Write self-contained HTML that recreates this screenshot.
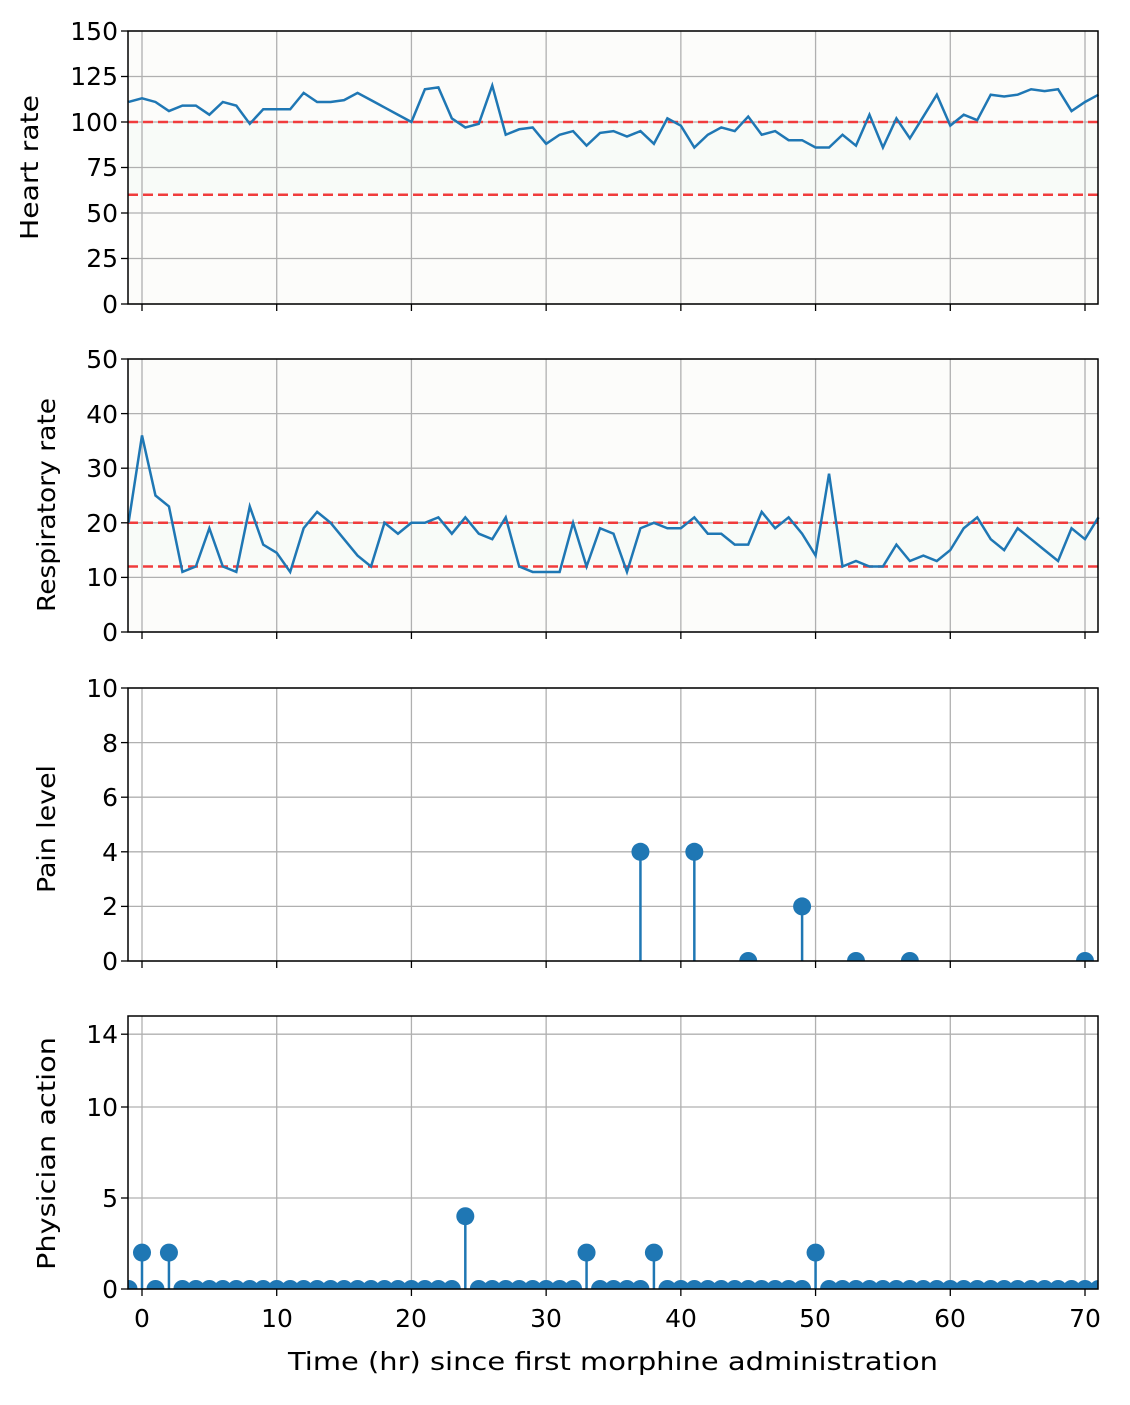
<!DOCTYPE html>
<html><head><meta charset="utf-8"><style>
body{margin:0;background:#fff}
svg text{font-family:"DejaVu Sans","Liberation Sans",sans-serif;font-size:25px;fill:#000}
</style></head><body>
<svg id="s" width="1130" height="1400" xmlns="http://www.w3.org/2000/svg">
<defs>
<clipPath id="c2"><rect x="128" y="680" width="970" height="281"/></clipPath>
<clipPath id="c3"><rect x="128" y="1010" width="970" height="279"/></clipPath>
</defs>
<g id="g"></g>
<g text-anchor="end">
<text x="118" y="40">150</text><text x="118" y="85">125</text><text x="118" y="131">100</text><text x="118" y="176">75</text><text x="118" y="222">50</text><text x="118" y="267">25</text><text x="118" y="313">0</text>
<text x="118" y="368">50</text><text x="118" y="423">40</text><text x="118" y="477">30</text><text x="118" y="532">20</text><text x="118" y="586">10</text><text x="118" y="641">0</text>
<text x="118" y="697">10</text><text x="118" y="752">8</text><text x="118" y="806">6</text><text x="118" y="861">4</text><text x="118" y="915">2</text><text x="118" y="970">0</text>
<text x="118" y="1043">14</text><text x="118" y="1116">10</text><text x="118" y="1207">5</text><text x="118" y="1298">0</text>
</g>
<g text-anchor="middle">
<text x="142" y="1327">0</text><text x="277" y="1327">10</text><text x="411" y="1327">20</text><text x="546" y="1327">30</text><text x="681" y="1327">40</text><text x="815" y="1327">50</text><text x="950" y="1327">60</text><text x="1085" y="1327">70</text>
</g>
<text x="288" y="1370" font-size="28" textLength="650" lengthAdjust="spacingAndGlyphs">Time (hr) since first morphine administration</text>
<text transform="translate(38,240) rotate(-90)" font-size="28" textLength="145" lengthAdjust="spacingAndGlyphs">Heart rate</text>
<text transform="translate(55,612) rotate(-90)" font-size="28" textLength="214" lengthAdjust="spacingAndGlyphs">Respiratory rate</text>
<text transform="translate(55,893) rotate(-90)" font-size="28" textLength="128" lengthAdjust="spacingAndGlyphs">Pain level</text>
<text transform="translate(55,1270) rotate(-90)" font-size="28" textLength="233" lengthAdjust="spacingAndGlyphs">Physician action</text>
</svg>
<script>
const g=document.getElementById('g');const NS='http://www.w3.org/2000/svg';
function el(t,a,par){const e=document.createElementNS(NS,t);for(const k in a)e.setAttribute(k,a[k]);(par||g).appendChild(e);return e;}
const L=128,R=1098;const X=v=>142+(v)*943/70;
const P=[{t:31,b:304,max:150,ticks:[0,25,50,75,100,125,150]},{t:359,b:632,max:50,ticks:[0,10,20,30,40,50]},{t:688,b:961,max:10,ticks:[0,2,4,6,8,10]},{t:1016,b:1289,max:15,ticks:[0,5,10,14]}];
const Y=(p,v)=>p.b-v*(p.b-p.t)/p.max;
P.forEach((p,i)=>{
 if(i<2){el('rect',{x:L,y:p.t,width:R-L,height:p.b-p.t,fill:'#fcfcfa'});
  const lo=i==0?60:12,hi=i==0?100:20;el('rect',{x:L,y:Y(p,hi),width:R-L,height:Y(p,lo)-Y(p,hi),fill:'#f8fbf8'});}
 for(let x=0;x<=70;x+=10)el('line',{x1:X(x),x2:X(x),y1:p.t,y2:p.b,stroke:'#b0b0b0','stroke-width':1.3});
 p.ticks.forEach(v=>{el('line',{x1:L,x2:R,y1:Y(p,v),y2:Y(p,v),stroke:'#b0b0b0','stroke-width':1.3});el('line',{x1:L-7,x2:L,y1:Y(p,v),y2:Y(p,v),stroke:'#000','stroke-width':1.3});});
 for(let x=0;x<=70;x+=10)el('line',{x1:X(x),x2:X(x),y1:p.b,y2:p.b+7,stroke:'#000','stroke-width':1.3});
});
const hr=[111,113,111,106,109,109,104,111,109,99,107,107,107,116,111,111,112,116,112,108,104,100,118,119,102,97,99,120,93,96,97,88,93,95,87,94,95,92,95,88,102,98,86,93,97,95,103,93,95,90,90,86,86,93,87,104,86,102,91,103,115,98,104,101,115,114,115,118,117,118,106,111,115];
const rr=[20,36,25,23,11,12,19,12,11,23,16,14.5,11,19,22,20,17,14,12,20,18,20,20,21,18,21,18,17,21,12,11,11,11,20,12,19,18,11,19,20,19,19,21,18,18,16,16,22,19,21,18,14,29,12,13,12,12,16,13,14,13,15,19,21,17,15,19,17,15,13,19,17,21];
[[0,[60,100]],[1,[12,20]]].forEach(([i,ls])=>ls.forEach(v=>el('line',{x1:L,x2:R,y1:Y(P[i],v),y2:Y(P[i],v),stroke:'#f03c3c','stroke-width':2.5,'stroke-dasharray':'10,5'})));
[[0,hr],[1,rr]].forEach(([i,d])=>el('polyline',{points:d.map((v,k)=>X(k-1)+','+Y(P[i],v)).join(' '),fill:'none',stroke:'#1f77b4','stroke-width':2.5}));
const pain=[[37,4],[41,4],[45,0],[49,2],[53,0],[57,0],[70,0]];
const phys=[];for(let x=-1;x<=71;x++){let v=0;if(x==0||x==2||x==33||x==38||x==50)v=2;if(x==24)v=4;phys.push([x,v]);}
[[2,pain,'c2'],[3,phys,'c3']].forEach(([i,d,c])=>{const p=P[i];const gg=el('g',{'clip-path':'url(#'+c+')'});
 d.forEach(([x,v])=>{if(v>0)el('line',{x1:X(x),x2:X(x),y1:p.b,y2:Y(p,v),stroke:'#1f77b4','stroke-width':2.5},gg);});
 d.forEach(([x,v])=>el('circle',{cx:X(x),cy:Y(p,v),r:9,fill:'#1f77b4'},gg));});
P.forEach(p=>el('rect',{x:L,y:p.t,width:R-L,height:p.b-p.t,fill:'none',stroke:'#000','stroke-width':1.5}));
</script>
</body></html>
